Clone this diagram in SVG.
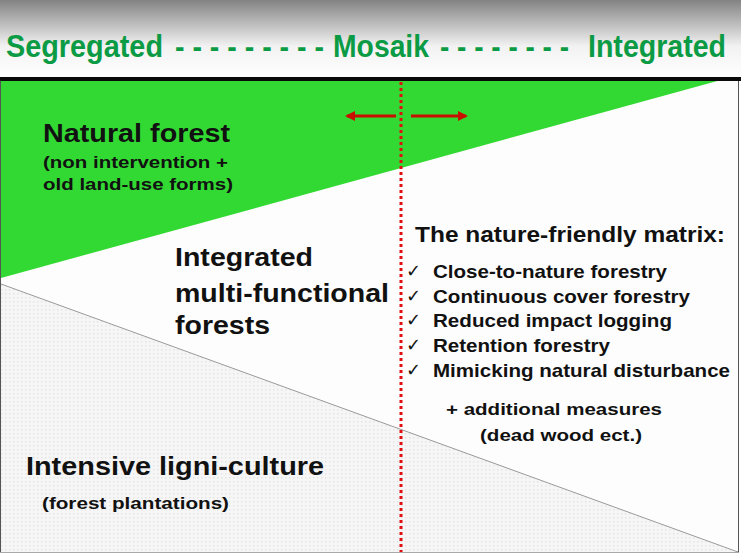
<svg xmlns="http://www.w3.org/2000/svg" width="741" height="556" viewBox="0 0 741 556">
<defs>
<linearGradient id="topg" x1="0" y1="0" x2="0" y2="1">
<stop offset="0" stop-color="#838383"/>
<stop offset="0.6" stop-color="#f2f2f2"/>
<stop offset="1" stop-color="#ffffff"/>
</linearGradient>
<pattern id="dots" width="4" height="4" patternUnits="userSpaceOnUse">
<rect width="4" height="4" fill="#f6f6f6"/>
<rect x="1" y="1" width="1.5" height="1.5" fill="#e4e4e4"/>
</pattern>
<marker id="ah" markerWidth="10" markerHeight="10" refX="8" refY="5" orient="auto" markerUnits="userSpaceOnUse" viewBox="0 0 10 10">
<path d="M0,0 L10,5 L0,10 Z" fill="#c81000"/>
</marker>
<style>
.hd{font-family:"Liberation Sans",Arial,sans-serif;font-weight:bold;font-size:31px;fill:#0b9b45}
.t{font-family:"Liberation Sans",Arial,sans-serif;font-weight:bold;fill:#111}
.big{font-size:25px}
.ig{font-size:26px}
.mid{font-size:22px}
.itm{font-size:19px}
.sm{font-size:17px}
.ck{font-family:"DejaVu Sans",sans-serif;font-size:18px;fill:#111}
.arr{stroke:#c81000;stroke-width:3;fill:none}
</style>
</defs>
<rect x="0" y="0" width="741" height="556" fill="#ffffff"/>
<rect x="0" y="0" width="741" height="77" fill="url(#topg)"/>
<g id="header">
<text class="hd" x="6" y="57" textLength="157" lengthAdjust="spacingAndGlyphs">Segregated</text>
<text class="hd" x="175" y="57" textLength="149" lengthAdjust="spacingAndGlyphs">- - - - - - - - -</text>
<text class="hd" x="333" y="57" textLength="96" lengthAdjust="spacingAndGlyphs">Mosaik</text>
<text class="hd" x="440" y="57" textLength="129" lengthAdjust="spacingAndGlyphs">- - - - - - - -</text>
<text class="hd" x="588" y="57" textLength="138" lengthAdjust="spacingAndGlyphs">Integrated</text>
</g>
<g id="panel">
<rect x="0.5" y="80" width="738" height="472" fill="#fdfdfd" stroke="#555" stroke-width="1"/>
<polygon points="1,284 738,552 1,552" fill="url(#dots)"/>
<line x1="1" y1="284" x2="738" y2="552" stroke="#9a9a9a" stroke-width="1"/>
<polygon points="1,80 721,80 1,278" fill="#33d933"/>
<rect x="0" y="77" width="741" height="4" fill="#0a0a0a"/>
</g>
<g id="connectors">
<line x1="401" y1="82" x2="401" y2="552" stroke="#e01010" stroke-width="3" stroke-dasharray="3,3"/>
<line class="arr" x1="396" y1="116" x2="347" y2="116" marker-end="url(#ah)"/>
<line class="arr" x1="411" y1="116" x2="466" y2="116" marker-end="url(#ah)"/>
</g>
<g id="natural-forest">
<text class="t big" x="43" y="142" textLength="187" lengthAdjust="spacingAndGlyphs">Natural forest</text>
<text class="t sm" x="43" y="168" textLength="185" lengthAdjust="spacingAndGlyphs">(non intervention +</text>
<text class="t sm" x="43" y="190" textLength="190" lengthAdjust="spacingAndGlyphs">old land-use forms)</text>
</g>
<g id="integrated">
<text class="t ig" x="175" y="266" textLength="138" lengthAdjust="spacingAndGlyphs">Integrated</text>
<text class="t ig" x="175" y="302" textLength="214" lengthAdjust="spacingAndGlyphs">multi-functional</text>
<text class="t ig" x="175" y="334" textLength="95" lengthAdjust="spacingAndGlyphs">forests</text>
</g>
<g id="matrix">
<text class="t mid" x="415" y="242" textLength="310" lengthAdjust="spacingAndGlyphs">The nature-friendly matrix:</text>
<text class="ck" x="406" y="277">✓</text>
<text class="t itm" x="433" y="278" textLength="234" lengthAdjust="spacingAndGlyphs">Close-to-nature forestry</text>
<text class="ck" x="406" y="302">✓</text>
<text class="t itm" x="433" y="303" textLength="257" lengthAdjust="spacingAndGlyphs">Continuous cover forestry</text>
<text class="ck" x="406" y="326">✓</text>
<text class="t itm" x="433" y="327" textLength="239" lengthAdjust="spacingAndGlyphs">Reduced impact logging</text>
<text class="ck" x="406" y="351">✓</text>
<text class="t itm" x="433" y="352" textLength="177" lengthAdjust="spacingAndGlyphs">Retention forestry</text>
<text class="ck" x="406" y="376">✓</text>
<text class="t itm" x="433" y="377" textLength="297" lengthAdjust="spacingAndGlyphs">Mimicking natural disturbance</text>
<text class="t sm" x="446" y="415" textLength="216" lengthAdjust="spacingAndGlyphs">+ additional measures</text>
<text class="t sm" x="480" y="441" textLength="162" lengthAdjust="spacingAndGlyphs">(dead wood ect.)</text>
</g>
<g id="intensive">
<text class="t big" x="26" y="475" textLength="298" lengthAdjust="spacingAndGlyphs">Intensive ligni-culture</text>
<text class="t sm" x="42" y="509" textLength="187" lengthAdjust="spacingAndGlyphs">(forest plantations)</text>
</g>
</svg>
